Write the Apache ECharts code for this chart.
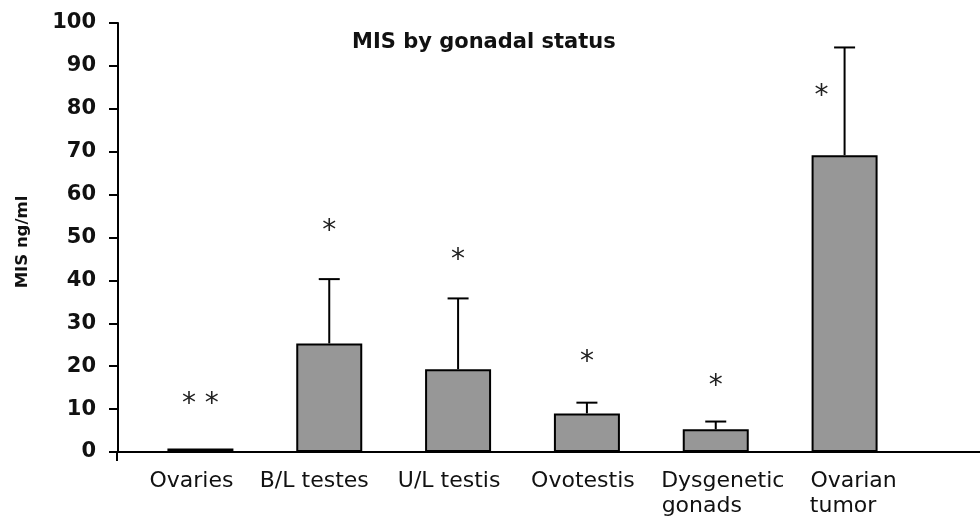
<!DOCTYPE html>
<html>
<head>
<meta charset="utf-8">
<script src="https://cdn.jsdelivr.net/npm/echarts@6/dist/echarts.min.js"></script>
<style>html,body{margin:0;padding:0;background:#fff}#chart{width:980px;height:522px}</style>
</head>
<body>
<div id="chart"></div>
<script>
const categories = ['Ovaries', 'B/L testes', 'U/L testis', 'Ovotestis', 'Dysgenetic\ngonads', 'Ovarian\ntumor'];
const misMean = [0.8, 25.3, 19.3, 9.0, 5.3, 69.2];
const misErrorTop = [null, 40.3, 35.8, 11.5, 7.1, 94.3];
const starMarks = ['* *', '*', '*', '*', '*', '*'];
const starLevel = [12.4, 52.7, 45.9, 22.1, 16.7, 84.1];
const yMin = 0, yMax = 100, yStep = 10;
const titleText = 'MIS by gonadal status';
const yName = 'MIS ng/ml';

const FONT = 'DejaVu Sans';
const chart = echarts.init(document.getElementById('chart'), null, {renderer: 'canvas'});

// label placement tweaks (styling only)
const labelShift = [-9, -15, -9, -4, 7, 9];
const rich = {};
labelShift.forEach((dx, i) => {
  rich['s' + i] = {
    fontFamily: FONT, fontSize: 22, color: '#111', lineHeight: 25,
    padding: [0, dx < 0 ? -2 * dx : 0, 0, dx > 0 ? 2 * dx : 0]
  };
});

// left-align multi-line category labels by padding shorter lines
const ctx = document.createElement('canvas').getContext('2d');
ctx.font = '22px "' + FONT + '"';
const spaceW = ctx.measureText(' ').width;
function padLines(s) {
  const lines = s.split('\n');
  if (lines.length < 2) return lines;
  const widths = lines.map(l => ctx.measureText(l).width);
  const maxW = Math.max(...widths);
  return lines.map((l, i) => l + ' '.repeat(Math.round((maxW - widths[i]) / spaceW)));
}

const errData = [];
misErrorTop.forEach((t, i) => { if (t != null) errData.push([i, misMean[i], t]); });
const starData = starLevel.map((v, i) => [i, v]);

chart.setOption({
  animation: false,
  backgroundColor: '#fff',
  title: {
    text: titleText, left: 347, top: 27,
    textStyle: {fontFamily: FONT, fontWeight: 'bold', fontSize: 21, color: '#111'}
  },
  grid: [
    {left: 136, right: 71, top: 23, bottom: 70},
    {left: 117, right: 0, top: 23, bottom: 70}
  ],
  xAxis: [
    {
      type: 'category', gridIndex: 0, data: categories,
      axisLine: {show: false}, axisTick: {show: false},
      axisLabel: {
        interval: 0, margin: 17, fontFamily: FONT, fontSize: 22, color: '#111', lineHeight: 25,
        formatter: (v, idx) => padLines(v).map(l => '{s' + idx + '|' + l + '}').join('\n'),
        rich: rich
      }
    },
    {
      type: 'value', gridIndex: 1, min: 0, max: 1,
      axisLine: {show: true, lineStyle: {color: '#000', width: 2}},
      axisTick: {show: true, customValues: [0], length: 9, lineStyle: {color: '#000', width: 2}},
      axisLabel: {show: false}, splitLine: {show: false}
    }
  ],
  yAxis: [
    {
      type: 'value', gridIndex: 0, min: yMin, max: yMax, interval: yStep, offset: 18,
      name: yName, nameLocation: 'middle', nameGap: 87, nameRotate: 90,
      nameTextStyle: {fontFamily: FONT, fontWeight: 'bold', fontSize: 16.5, color: '#111', padding: [0, 9, 0, 0]},
      axisLine: {show: true, lineStyle: {color: '#000', width: 2}},
      axisTick: {show: true, inside: false, length: 9, lineStyle: {color: '#000', width: 2}},
      axisLabel: {margin: 22, fontFamily: FONT, fontWeight: 'bold', fontSize: 21, color: '#111'},
      splitLine: {show: false}
    },
    {type: 'value', gridIndex: 1, min: yMin, max: yMax, show: false}
  ],
  series: [
    {
      type: 'bar', xAxisIndex: 0, yAxisIndex: 0, data: misMean, barWidth: 66,
      itemStyle: {color: '#979797', borderColor: '#000', borderWidth: 2},
      z: 2
    },
    {
      type: 'custom', xAxisIndex: 0, yAxisIndex: 0, data: errData, z: 3,
      renderItem: function (params, api) {
        const x = api.value(0);
        const p0 = api.coord([x, api.value(1)]);
        const p1 = api.coord([x, api.value(2)]);
        const half = 10.5;
        const st = {stroke: '#000', lineWidth: 2};
        return {type: 'group', children: [
          {type: 'line', shape: {x1: p0[0], y1: p0[1], x2: p1[0], y2: p1[1]}, style: st},
          {type: 'line', shape: {x1: p1[0] - half, y1: p1[1], x2: p1[0] + half, y2: p1[1]}, style: st}
        ]};
      }
    },
    {
      type: 'custom', xAxisIndex: 0, yAxisIndex: 0, data: starData, z: 4,
      renderItem: function (params, api) {
        const i = api.value(0);
        const p = api.coord([i, api.value(1)]);
        const dx = (i === categories.length - 1) ? -23 : 0;
        return {
          type: 'text', x: p[0] + dx, y: p[1] + 6,
          style: {text: starMarks[params.dataIndex], fontFamily: FONT, fontSize: 28, fill: '#222', align: 'center', verticalAlign: 'middle'}
        };
      }
    }
  ]
});
</script>
</body>
</html>
